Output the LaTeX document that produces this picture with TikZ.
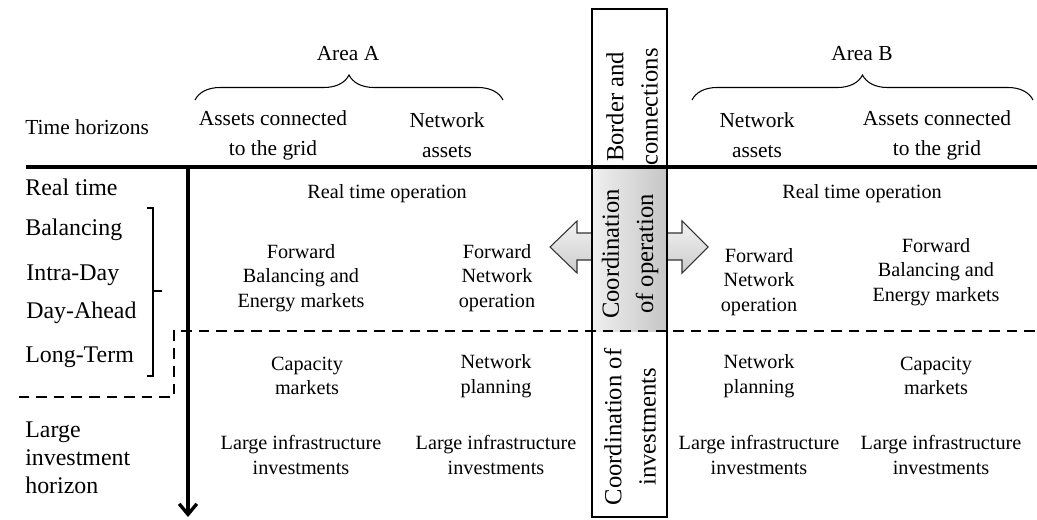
\documentclass[tikz,border=0pt]{standalone}
\usepackage{fontspec}
\setmainfont{Liberation Serif}
\usetikzlibrary{arrows.meta,decorations.pathreplacing}
\tikzset{
	hdr/.style={font=\fontsize{12.2}{17}\selectfont, align=center, inner sep=0pt},
	body/.style={font=\fontsize{11.5}{14}\selectfont, align=center, inner sep=0pt},
	horizon/.style={font=\fontsize{13.6}{16}\selectfont, align=left, anchor=west, inner sep=0pt},
	coordtext/.style={font=\fontsize{14}{19.5}\selectfont, align=center, rotate=90, inner sep=0pt},
	areabrace/.style={decorate, decoration={brace, amplitude=0.5cm, aspect=0.5}, semithick},
	mainline/.style={line width=2.2pt},
	dashline/.style={line width=1.6pt, dash pattern=on 6pt off 4pt},
	blockarrow/.style={draw=black!80, semithick, top color=gray!10, bottom color=gray!40},
}
\begin{document}
\begin{tikzpicture}[x=0.02cm, y=-0.02cm]
		\useasboundingbox (0,0) rectangle (1037,520);

		% block arrow behind the border column
		\draw[blockarrow] (550,247) -- (577,221) -- (577,233) -- (682,233) -- (682,221) -- (708,247)
			-- (682,273) -- (682,260) -- (577,260) -- (577,273) -- cycle;

		\shade[left color=gray!12, right color=gray!45] (592,167) rectangle (667,331);
		\draw[semithick] (592,9) rectangle (667,517);

		\node[coordtext] (border) at (632,107) {Border and\\connections};
		\node[coordtext] (coordop) at (630,254) {Coordination\\of operation};
		\node[coordtext] (coordinv) at (630,427) {Coordination of\\investments};

		\node[hdr] (areaA) at (348,54) {Area A};
		\node[hdr] (areaB) at (862,54) {Area B};
		\draw[areabrace] (195,100) -- (503,100);
		\draw[areabrace] (692,100) -- (1033,100);

		\node[hdr, anchor=west] (timeh) at (25,127) {Time horizons};
		\node[hdr] (assetsA) at (273,135) {Assets connected\\to the grid};
		\node[hdr] (netA) at (447,135) {Network\\assets};
		\node[hdr] (netB) at (757,135) {Network\\assets};
		\node[hdr] (assetsB) at (937,135) {Assets connected\\to the grid};

		\coordinate (axtop) at (188,167);
		\coordinate (axbot) at (188,517);
		\draw[mainline] (26,167) -- (1037,167);
		\draw[line width=1.9pt, -{Straight Barb[length=6pt, width=10pt]}] (axtop) -- (axbot);

		\node[horizon] (realt) at (25,187) {Real time};
		\node[horizon] (bal) at (25,230) {Balancing};
		\node[horizon] (intra) at (26,275) {Intra-Day};
		\node[horizon] (dayah) at (26,313) {Day-Ahead};
		\node[horizon] (longt) at (25,357) {Long-Term};
		\node[horizon] (large) at (25,458) {Large\\investment\\horizon};

		\draw[semithick] (147,208) -- (153,208) -- (153,376) -- (147,376);
		\draw[semithick] (153,291) -- (162,291);

		\draw[dashline] (1035,331) -- (174,331) -- (174,397) -- (12,397);

		\node[body] (rtA) at (387,194) {Real time operation};
		\node[body] (rtB) at (862,194) {Real time operation};
		\node[body] (fwdA) at (301,278) {Forward\\Balancing and\\Energy markets};
		\node[body] (fnoA) at (497,278) {Forward\\Network\\operation};
		\node[body] (fnoB) at (759,282) {Forward\\Network\\operation};
		\node[body] (fwdB) at (936,272) {Forward\\Balancing and\\Energy markets};

		\node[body] (capA) at (307,376) {Capacity\\markets};
		\node[body] (planA) at (496,376) {Network\\planning};
		\node[body] (planB) at (759,376) {Network\\planning};
		\node[body] (capB) at (936,376) {Capacity\\markets};
		\node[body] (infA) at (301,455) {Large infrastructure\\investments};
		\node[body] (infA2) at (496,455) {Large infrastructure\\investments};
		\node[body] (infB) at (759,455) {Large infrastructure\\investments};
		\node[body] (infB2) at (941,455) {Large infrastructure\\investments};
	\end{tikzpicture}
\end{document}
